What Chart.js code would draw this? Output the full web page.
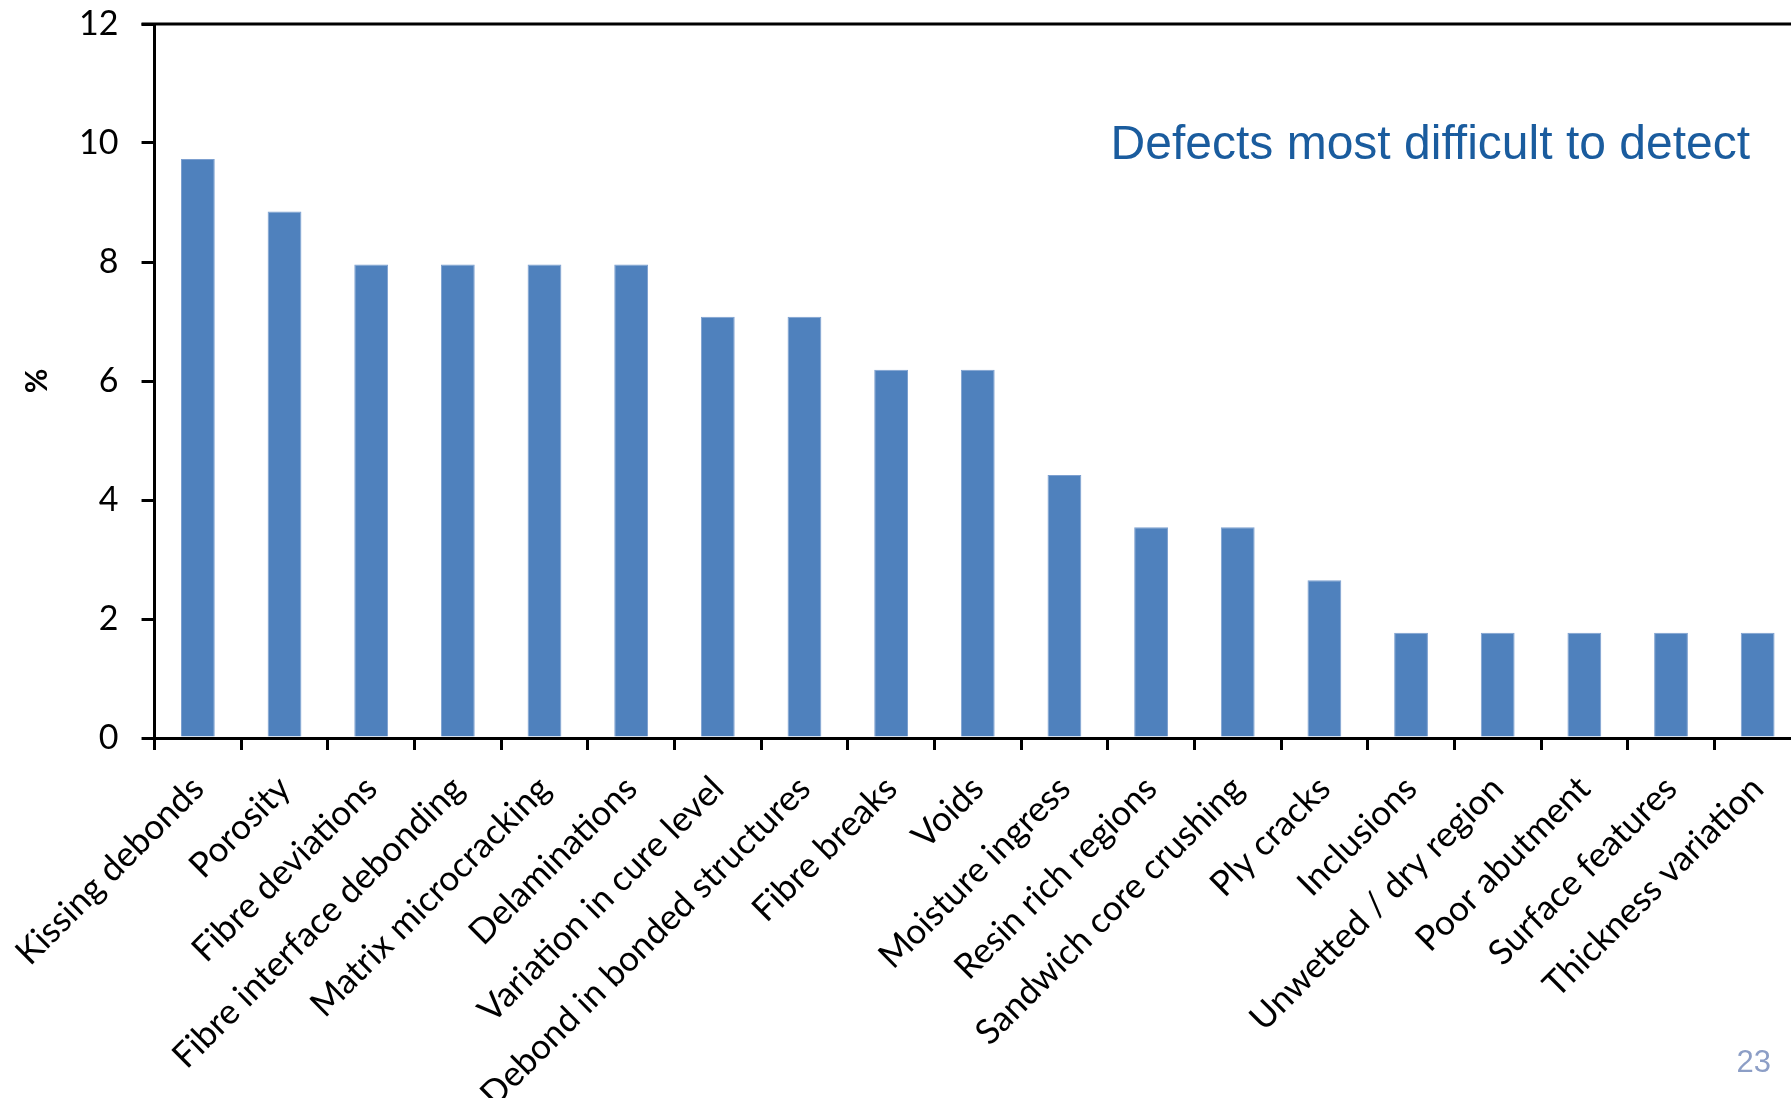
<!DOCTYPE html>
<html lang="en">
<head>
<meta charset="UTF-8">
<title>Defects most difficult to detect</title>
<script src="https://cdn.jsdelivr.net/npm/chart.js@4"></script>
<style>
    body {
        margin: 0;
        padding: 0;
        background: #fff;
        overflow: hidden;
    }
    #wrap {
        position: relative;
        width: 1810px;
        height: 1098px;
    }
</style>
</head>
<body>
<div id="wrap">
    <canvas id="chart" width="1810" height="1098"></canvas>
</div>
<script>
// defect types, ordered by share of answers
const defects = [
    'Kissing debonds', 'Porosity', 'Fibre deviations', 'Fibre interface debonding',
    'Matrix microcracking', 'Delaminations', 'Variation in cure level',
    'Debond in bonded structures', 'Fibre breaks', 'Voids', 'Moisture ingress',
    'Resin rich regions', 'Sandwich core crushing', 'Ply cracks', 'Inclusions',
    'Unwetted / dry region', 'Poor abutment', 'Surface features', 'Thickness variation'
];
const percent = [9.73, 8.85, 7.96, 7.96, 7.96, 7.96, 7.08, 7.08, 6.19, 6.19,
                 4.42, 3.54, 3.54, 2.65, 1.77, 1.77, 1.77, 1.77, 1.77];
const yTicks = [0, 2, 4, 6, 8, 10, 12];

const labelFont = 'Lato, "Open Sans", sans-serif';

// top frame line, heading and page number
const extras = {
    id: 'extras',
    afterDraw(chart) {
        const ctx = chart.ctx;
        const a = chart.chartArea;
        ctx.save();
        ctx.strokeStyle = '#000';
        ctx.lineWidth = 3;
        ctx.beginPath();
        ctx.moveTo(a.left - 13, a.top);
        ctx.lineTo(a.right, a.top);
        ctx.stroke();

        ctx.fillStyle = '#1A5C9E';
        ctx.font = '48px "Liberation Sans", Arial, sans-serif';
        ctx.textAlign = 'right';
        ctx.textBaseline = 'alphabetic';
        ctx.fillText('Defects most difficult to detect', 1750, 159);

        ctx.fillStyle = '#8C9EC6';
        ctx.font = '31px "Liberation Sans", Arial, sans-serif';
        ctx.fillText('23', 1771, 1072);
        ctx.restore();
    }
};

new Chart(document.getElementById('chart'), {
    type: 'bar',
    data: {
        labels: defects,
        datasets: [{
            data: percent,
            backgroundColor: '#4F81BD',
            borderColor: '#7DA0D0',
            borderWidth: 1,
            barPercentage: 0.39,
            categoryPercentage: 1
        }]
    },
    options: {
        responsive: false,
        animation: false,
        layout: { padding: { top: 24, right: 9, left: 0, bottom: 0 } },
        plugins: {
            legend: { display: false },
            tooltip: { enabled: false }
        },
        scales: {
            x: {
                grid: {
                    offset: true,
                    drawOnChartArea: false,
                    color: '#000',
                    lineWidth: 3,
                    tickLength: 12
                },
                border: { color: '#000', width: 3 },
                ticks: {
                    color: '#000',
                    font: { family: labelFont, size: 35 },
                    minRotation: 45,
                    maxRotation: 45,
                    autoSkip: false,
                    padding: 18
                },
                afterFit(scale) { scale.height = 360; }
            },
            y: {
                min: 0,
                max: 12,
                afterBuildTicks(scale) {
                    scale.ticks = yTicks.map(v => ({ value: v }));
                },
                grid: {
                    drawOnChartArea: false,
                    color: '#000',
                    lineWidth: 3,
                    tickLength: 13
                },
                border: { color: '#000', width: 3 },
                ticks: {
                    color: '#000',
                    font: { family: labelFont, size: 34 },
                    padding: 23
                },
                title: {
                    display: true,
                    text: '%',
                    color: '#000',
                    font: { family: labelFont, size: 30, weight: 'bold' },
                    padding: 15
                },
                afterFit(scale) {
                    scale.width = 150;
                    scale.paddingTop = 0;
                    scale.paddingBottom = 0;
                }
            }
        }
    },
    plugins: [extras]
});
</script>
</body>
</html>
